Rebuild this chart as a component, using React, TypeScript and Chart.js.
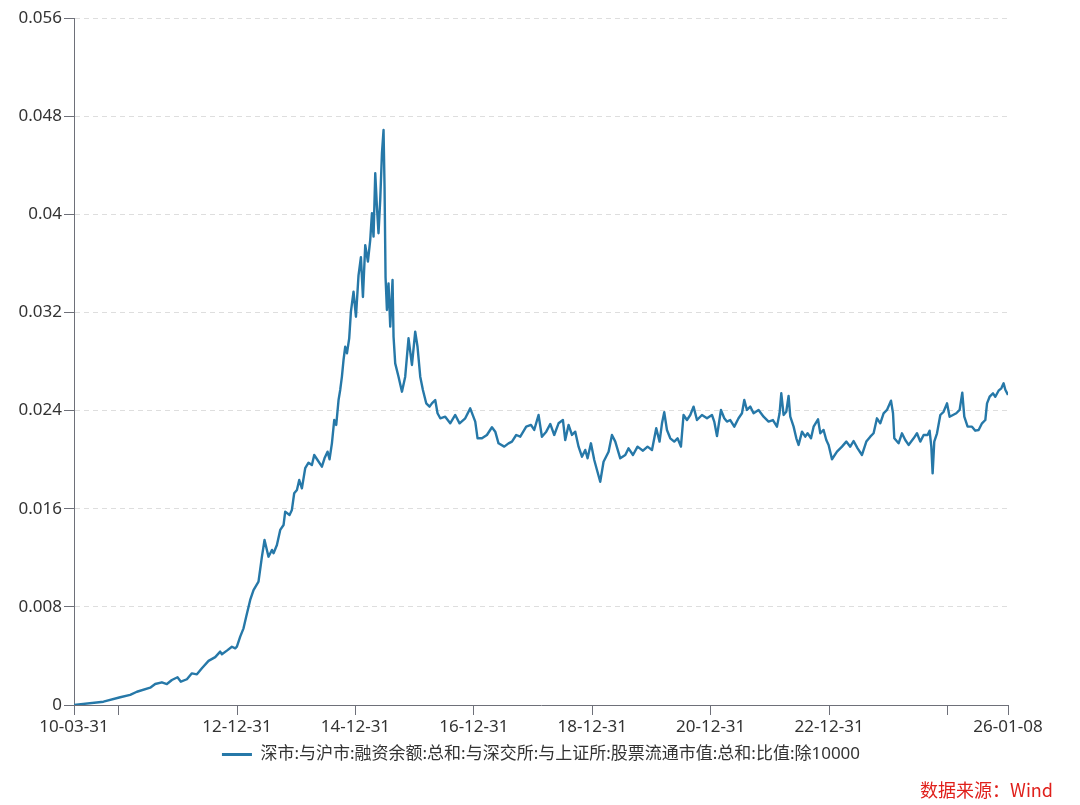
import React, { useEffect, useRef } from 'react';
import { Chart, registerables } from 'chart.js';

Chart.register(...registerables);

const SERIES_NAME = '深市:与沪市:融资余额:总和:与深交所:与上证所:股票流通市值:总和:比值:除10000';
const SOURCE_TEXT = '数据来源：Wind';

// x positions as decimal years
const DATE_YEARS = [
  2010.244, 2010.742, 2011.024, 2011.193, 2011.306, 2011.531, 2011.615, 2011.728, 2011.813, 2011.897,
  2011.992, 2012.049, 2012.151, 2012.235, 2012.320, 2012.404, 2012.516, 2012.629, 2012.713, 2012.742,
  2012.826, 2012.911, 2012.967, 2012.995, 2013.051, 2013.107, 2013.152, 2013.220, 2013.276, 2013.360,
  2013.418, 2013.462, 2013.529, 2013.587, 2013.614, 2013.671, 2013.727, 2013.783, 2013.811, 2013.884,
  2013.924, 2013.963, 2014.009, 2014.048, 2014.093, 2014.149, 2014.205, 2014.262, 2014.301, 2014.357,
  2014.431, 2014.475, 2014.526, 2014.560, 2014.600, 2014.639, 2014.673, 2014.712, 2014.740, 2014.769,
  2014.796, 2014.825, 2014.854, 2014.892, 2014.921, 2014.965, 2015.006, 2015.049, 2015.090, 2015.124,
  2015.163, 2015.208, 2015.247, 2015.276, 2015.303, 2015.332, 2015.360, 2015.387, 2015.416, 2015.445,
  2015.472, 2015.489, 2015.506, 2015.529, 2015.556, 2015.585, 2015.624, 2015.641, 2015.669, 2015.725,
  2015.783, 2015.838, 2015.894, 2015.952, 2016.007, 2016.046, 2016.092, 2016.137, 2016.193, 2016.249,
  2016.289, 2016.345, 2016.384, 2016.430, 2016.514, 2016.598, 2016.683, 2016.756, 2016.852, 2016.936,
  2017.021, 2017.060, 2017.134, 2017.218, 2017.303, 2017.359, 2017.414, 2017.511, 2017.583, 2017.641,
  2017.713, 2017.781, 2017.882, 2017.962, 2018.017, 2018.090, 2018.147, 2018.220, 2018.288, 2018.355,
  2018.428, 2018.502, 2018.541, 2018.597, 2018.654, 2018.710, 2018.766, 2018.823, 2018.879, 2018.918,
  2018.975, 2019.031, 2019.077, 2019.132, 2019.188, 2019.273, 2019.330, 2019.386, 2019.470, 2019.555,
  2019.610, 2019.685, 2019.762, 2019.854, 2019.931, 2020.006, 2020.078, 2020.134, 2020.175, 2020.213,
  2020.259, 2020.315, 2020.382, 2020.438, 2020.495, 2020.539, 2020.597, 2020.653, 2020.708, 2020.766,
  2020.850, 2020.935, 2021.019, 2021.058, 2021.104, 2021.171, 2021.227, 2021.272, 2021.328, 2021.396,
  2021.468, 2021.526, 2021.565, 2021.610, 2021.666, 2021.722, 2021.806, 2021.891, 2021.975, 2022.049,
  2022.117, 2022.161, 2022.190, 2022.229, 2022.274, 2022.313, 2022.342, 2022.398, 2022.444, 2022.482,
  2022.540, 2022.595, 2022.634, 2022.692, 2022.736, 2022.810, 2022.849, 2022.904, 2022.950, 2022.989,
  2023.046, 2023.131, 2023.215, 2023.288, 2023.355, 2023.411, 2023.479, 2023.553, 2023.626, 2023.693,
  2023.749, 2023.806, 2023.862, 2023.918, 2023.975, 2024.043, 2024.077, 2024.099, 2024.171, 2024.228,
  2024.284, 2024.340, 2024.425, 2024.482, 2024.538, 2024.594, 2024.661, 2024.695, 2024.724, 2024.746,
  2024.774, 2024.820, 2024.876, 2024.931, 2024.989, 2025.033, 2025.090, 2025.146, 2025.202, 2025.247,
  2025.281, 2025.337, 2025.411, 2025.467, 2025.523, 2025.580, 2025.636, 2025.665, 2025.709, 2025.766,
  2025.805, 2025.860, 2025.906, 2025.945, 2025.974, 2026.019,
];

const RATIO_VALUES = [
  0.00000, 0.00027, 0.00063, 0.00082, 0.00108, 0.00141, 0.00171, 0.00185, 0.00171, 0.00204,
  0.00226, 0.00190, 0.00210, 0.00258, 0.00250, 0.00300, 0.00360, 0.00390, 0.00435, 0.00413,
  0.00443, 0.00475, 0.00462, 0.00475, 0.00557, 0.00625, 0.00720, 0.00856, 0.00937, 0.01005,
  0.01209, 0.01345, 0.01209, 0.01264, 0.01237, 0.01304, 0.01427, 0.01467, 0.01576, 0.01549,
  0.01590, 0.01726, 0.01753, 0.01834, 0.01766, 0.01930, 0.01975, 0.01956, 0.02038, 0.01997,
  0.01943, 0.02011, 0.02065, 0.02003, 0.02133, 0.02323, 0.02283, 0.02486, 0.02568, 0.02677,
  0.02812, 0.02920, 0.02867, 0.02989, 0.03206, 0.03369, 0.03165, 0.03500, 0.03650, 0.03326,
  0.03749, 0.03614, 0.03790, 0.04008, 0.03818, 0.04334, 0.04062, 0.03845, 0.04117, 0.04497,
  0.04687, 0.04225, 0.03486, 0.03220, 0.03437, 0.03084, 0.03464, 0.03002, 0.02785, 0.02676,
  0.02554, 0.02676, 0.02989, 0.02772, 0.03043, 0.02920, 0.02676, 0.02568, 0.02459, 0.02432,
  0.02459, 0.02486, 0.02378, 0.02337, 0.02350, 0.02296, 0.02364, 0.02296, 0.02337, 0.02418,
  0.02310, 0.02174, 0.02174, 0.02201, 0.02264, 0.02228, 0.02133, 0.02106, 0.02133, 0.02147,
  0.02201, 0.02187, 0.02269, 0.02283, 0.02242, 0.02364, 0.02187, 0.02228, 0.02291, 0.02201,
  0.02296, 0.02323, 0.02160, 0.02283, 0.02201, 0.02228, 0.02106, 0.02024, 0.02079, 0.02011,
  0.02133, 0.01997, 0.01916, 0.01820, 0.01983, 0.02065, 0.02201, 0.02147, 0.02011, 0.02038,
  0.02092, 0.02038, 0.02106, 0.02073, 0.02106, 0.02079, 0.02256, 0.02147, 0.02296, 0.02386,
  0.02242, 0.02174, 0.02147, 0.02174, 0.02106, 0.02364, 0.02323, 0.02364, 0.02432, 0.02323,
  0.02364, 0.02337, 0.02364, 0.02310, 0.02193, 0.02405, 0.02337, 0.02310, 0.02323, 0.02269,
  0.02337, 0.02378, 0.02486, 0.02405, 0.02432, 0.02378, 0.02405, 0.02350, 0.02310, 0.02323,
  0.02269, 0.02378, 0.02541, 0.02364, 0.02390, 0.02519, 0.02350, 0.02269, 0.02174, 0.02120,
  0.02228, 0.02187, 0.02215, 0.02174, 0.02269, 0.02329, 0.02215, 0.02242, 0.02160, 0.02120,
  0.02003, 0.02065, 0.02106, 0.02147, 0.02106, 0.02152, 0.02092, 0.02038, 0.02147, 0.02187,
  0.02215, 0.02337, 0.02296, 0.02378, 0.02405, 0.02481, 0.02378, 0.02174, 0.02133, 0.02215,
  0.02160, 0.02120, 0.02174, 0.02215, 0.02147, 0.02201, 0.02201, 0.02236, 0.02106, 0.01888,
  0.02147, 0.02215, 0.02364, 0.02390, 0.02459, 0.02350, 0.02364, 0.02378, 0.02405, 0.02546,
  0.02350, 0.02269, 0.02269, 0.02236, 0.02242, 0.02296, 0.02323, 0.02459, 0.02513, 0.02540,
  0.02513, 0.02562, 0.02581, 0.02622, 0.02570, 0.02527,
];

const X_TICK_DATES = [
  '2010-03-31', '2010-12-31', '2012-12-31', '2014-12-31', '2016-12-31',
  '2018-12-31', '2020-12-31', '2022-12-31', '2024-12-31', '2026-01-08',
];
const X_TICK_LABELS = [
  '10-03-31', '', '12-12-31', '14-12-31', '16-12-31',
  '18-12-31', '20-12-31', '22-12-31', '', '26-01-08',
];

const Y_MIN = 0;
const Y_MAX = 0.056;
const Y_STEP = 0.008;

const LINE_COLOR = '#2678a8';
const AXIS_COLOR = '#6e7079';
const GRID_COLOR = '#dedede';
const TEXT_COLOR = '#333333';
const SOURCE_COLOR = '#e0201b';
const FONT_FAMILY = "'Noto Sans', 'Noto Sans CJK SC', sans-serif";
const CJK_FAMILY = "'Noto Sans CJK SC', 'Noto Sans', sans-serif";

function toYear(s: string): number {
  const [y, m, d] = s.split('-').map(Number);
  const start = Date.UTC(y, 0, 1);
  const end = Date.UTC(y + 1, 0, 1);
  return y + (Date.UTC(y, m - 1, d) - start) / (end - start);
}

export default function App() {
  const canvasRef = useRef<HTMLCanvasElement>(null);

  useEffect(() => {
    const canvas = canvasRef.current;
    if (!canvas) return;
    const points = DATE_YEARS.map((x, i) => ({ x, y: RATIO_VALUES[i] }));
    const chart = new Chart(canvas, {
      type: 'line',
      data: {
        datasets: [
          {
            label: SERIES_NAME,
            data: points,
            borderColor: LINE_COLOR,
            backgroundColor: LINE_COLOR,
            borderWidth: 2.4,
            borderJoinStyle: 'round',
            pointRadius: 0,
            pointHoverRadius: 0,
            tension: 0,
            fill: false,
          },
        ],
      },
      options: {
        responsive: false,
        animation: false,
        parsing: false as any,
        normalized: true,
        layout: { padding: { left: 0, right: 72, top: 18, bottom: 32 } },
        scales: {
          x: {
            type: 'linear',
            min: toYear(X_TICK_DATES[0]),
            max: toYear(X_TICK_DATES[X_TICK_DATES.length - 1]),
            afterBuildTicks: (scale: any) => {
              scale.ticks = X_TICK_DATES.map((d) => ({ value: toYear(d) }));
            },
            afterFit: (scale: any) => {
              scale.height = 32;
            },
            ticks: {
              autoSkip: false,
              maxRotation: 0,
              minRotation: 0,
              padding: 2,
              color: TEXT_COLOR,
              font: { family: FONT_FAMILY, size: 17 },
              callback: (_v: any, i: number) => X_TICK_LABELS[i],
            },
            grid: {
              display: true,
              drawOnChartArea: false,
              drawTicks: true,
              tickLength: 10,
              tickColor: AXIS_COLOR,
              tickWidth: 1,
            },
            border: { display: true, color: AXIS_COLOR, width: 1 },
          },
          y: {
            type: 'linear',
            min: Y_MIN,
            max: Y_MAX,
            afterFit: (scale: any) => {
              scale.width = 74;
            },
            ticks: {
              stepSize: Y_STEP,
              padding: 2,
              color: TEXT_COLOR,
              font: { family: FONT_FAMILY, size: 17 },
              callback: (v: any) => String(parseFloat(Number(v).toFixed(3))),
            },
            grid: {
              display: true,
              drawOnChartArea: true,
              drawTicks: true,
              tickLength: 10,
              tickColor: AXIS_COLOR,
              tickWidth: 1,
              lineWidth: 1,
              color: (ctx: any) =>
                ctx.tick && Math.abs(ctx.tick.value) < 1e-9 ? 'rgba(0,0,0,0)' : GRID_COLOR,
            },
            border: { display: true, color: AXIS_COLOR, width: 1, dash: [5, 4] },
          },
        },
        plugins: {
          legend: {
            display: true,
            position: 'bottom',
            fullSize: false,
            labels: {
              boxWidth: 30,
              boxHeight: 3,
              padding: 9,
              color: TEXT_COLOR,
              font: { family: FONT_FAMILY, size: 17 },
              generateLabels: (c: any) =>
                (Chart.defaults.plugins.legend.labels as any)
                  .generateLabels(c)
                  .map((l: any) => ({ ...l, lineWidth: 0, fillStyle: LINE_COLOR, strokeStyle: LINE_COLOR })),
            },
          },
          tooltip: { enabled: false },
        },
      } as any,
    });
    return () => chart.destroy();
  }, []);

  return (
    <div style={{ position: 'absolute', left: 0, top: 0, width: 1080, height: 805, background: '#ffffff' }}>
      <canvas ref={canvasRef} width={1080} height={805} style={{ display: 'block' }} />
      <div
        style={{
          position: 'absolute',
          right: 27,
          top: 777,
          fontSize: 18,
          lineHeight: '24px',
          color: SOURCE_COLOR,
          fontFamily: CJK_FAMILY,
          whiteSpace: 'nowrap',
        }}
      >
        {SOURCE_TEXT}
      </div>
    </div>
  );
}
